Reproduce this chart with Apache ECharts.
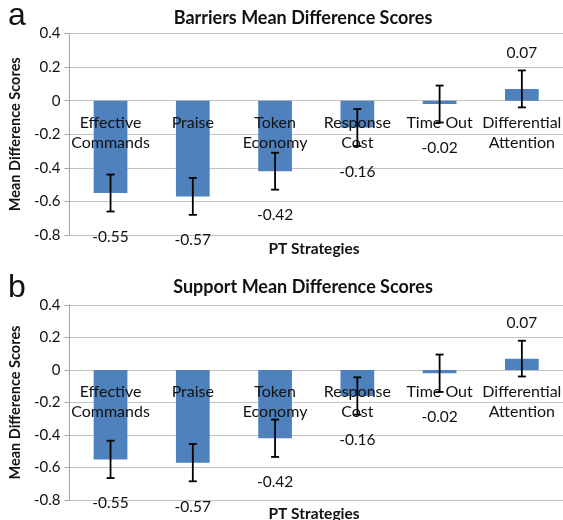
<!DOCTYPE html>
<html>
<head>
<meta charset="utf-8">
<script src="https://cdn.jsdelivr.net/npm/echarts@6/dist/echarts.min.js"></script>
<style>
  html, body { margin: 0; padding: 0; background: #fff; }
  #chart { width: 563px; height: 520px; }
</style>
</head>
<body>
<div id="chart"></div>
<script>
// ---- data ----
const categories = ['Effective\nCommands', 'Praise', 'Token\nEconomy', 'Response\nCost', 'Time Out', 'Differential\nAttention'];
const barriersValues = [-0.55, -0.57, -0.42, -0.16, -0.02, 0.07];
const barriersErrors = [0.11, 0.11, 0.11, 0.11, 0.11, 0.11];
const supportValues = [-0.55, -0.57, -0.42, -0.16, -0.02, 0.07];
const supportErrors = [0.115, 0.115, 0.115, 0.115, 0.115, 0.11];
const yTicks = { min: -0.8, max: 0.4, interval: 0.2 };
const panelTitles = ['Barriers Mean Difference Scores', 'Support Mean Difference Scores'];
const panelLetters = ['a', 'b'];
const xAxisTitle = 'PT Strategies';
const yAxisTitle = 'Mean Difference Scores';

// ---- styles ----
const FONT = 'Lato';
const BAR_COLOR = '#4f81bd';
const GRID_COLOR = '#c4c4c4';
const AXIS_COLOR = '#a6a6a6';
const TEXT_COLOR = '#111';
const grids = [
  { left: 67, right: -2, top: 33.5, height: 201.5 },
  { left: 67, right: -2, top: 305, height: 195 }
];

function errorSeries(idx, values, errors) {
  return {
    type: 'custom',
    xAxisIndex: idx, yAxisIndex: idx,
    z: 5,
    data: values.map((v, i) => [i, v, errors[i]]),
    renderItem: function (params, api) {
      const i = api.value(0), v = api.value(1), e = api.value(2);
      const top = api.coord([i, v + e]);
      const bot = api.coord([i, v - e]);
      const cap = 4;
      const style = { stroke: '#000', lineWidth: 1.8 };
      return {
        type: 'group',
        children: [
          { type: 'line', shape: { x1: top[0], y1: top[1], x2: bot[0], y2: bot[1] }, style },
          { type: 'line', shape: { x1: top[0] - cap, y1: top[1], x2: top[0] + cap, y2: top[1] }, style },
          { type: 'line', shape: { x1: bot[0] - cap, y1: bot[1], x2: bot[0] + cap, y2: bot[1] }, style }
        ]
      };
    }
  };
}

// category labels hang just below the zero line (axis crossing at 0)
function categoryLabelSeries(idx) {
  return {
    type: 'custom',
    xAxisIndex: idx, yAxisIndex: idx,
    z: 4,
    silent: true,
    clip: false,
    data: categories.map((c, i) => [i, 0]),
    renderItem: function (params, api) {
      const i = api.value(0);
      const p = api.coord([i, 0]);
      return {
        type: 'text',
        style: {
          text: categories[i],
          x: p[0], y: p[1] + 12,
          align: 'center', verticalAlign: 'top',
          lineHeight: 20,
          fontFamily: FONT, fontSize: 16, fill: TEXT_COLOR
        }
      };
    }
  };
}

function barSeries(idx, values) {
  return {
    type: 'bar',
    xAxisIndex: idx, yAxisIndex: idx,
    barWidth: '41%',
    z: 2,
    itemStyle: { color: BAR_COLOR },
    label: {
      show: true,
      position: 'outside',
      distance: 36,
      fontFamily: FONT, fontSize: 15.5, color: TEXT_COLOR,
      formatter: p => p.value.toFixed(2)
    },
    data: values.map(v => v > 0 ? { value: v, label: { distance: 28 } } : { value: v })
  };
}

const xAxes = grids.map((g, idx) => ({
  type: 'category',
  gridIndex: idx,
  data: categories,
  axisLine: { show: false },
  axisTick: { show: false },
  axisLabel: { show: false }
}));

const yAxes = grids.map((g, idx) => ({
  type: 'value',
  gridIndex: idx,
  min: yTicks.min, max: yTicks.max, interval: yTicks.interval,
  name: yAxisTitle,
  nameLocation: 'middle',
  nameGap: 45,
  nameTextStyle: { fontFamily: FONT, fontSize: 14.5, fontWeight: 'bold', color: TEXT_COLOR },
  axisLine: { show: true, lineStyle: { color: AXIS_COLOR } },
  axisTick: { show: true, length: 5, lineStyle: { color: AXIS_COLOR } },
  splitLine: { show: true, lineStyle: { color: GRID_COLOR, width: 1.2 } },
  axisLabel: {
    margin: 9, fontFamily: FONT, fontSize: 15, color: TEXT_COLOR,
    formatter: v => (Math.abs(v) < 1e-9 ? '0' : String(Math.round(v * 10) / 10))
  }
}));

const titles = [];
grids.forEach((g, idx) => {
  titles.push({
    text: panelLetters[idx], left: 8, top: idx === 0 ? 0 : 272, padding: 0,
    textStyle: { fontFamily: 'Liberation Sans', fontSize: 32, fontWeight: 'normal', color: TEXT_COLOR }
  });
  titles.push({
    text: panelTitles[idx], left: 303, textAlign: 'center', top: idx === 0 ? 9 : 278, padding: 0,
    textStyle: { fontFamily: FONT, fontSize: 18, fontWeight: 'bold', color: TEXT_COLOR }
  });
  titles.push({
    text: xAxisTitle, left: 314, textAlign: 'center', top: idx === 0 ? 241 : 506, padding: 0,
    textStyle: { fontFamily: FONT, fontSize: 15.5, fontWeight: 'bold', color: TEXT_COLOR }
  });
});

const option = {
  animation: false,
  backgroundColor: '#fff',
  title: titles,
  grid: grids,
  xAxis: xAxes,
  yAxis: yAxes,
  series: [
    barSeries(0, barriersValues),
    categoryLabelSeries(0),
    errorSeries(0, barriersValues, barriersErrors),
    barSeries(1, supportValues),
    categoryLabelSeries(1),
    errorSeries(1, supportValues, supportErrors)
  ]
};

const chart = echarts.init(document.getElementById('chart'), null, { renderer: 'canvas' });
chart.setOption(option);
</script>
</body>
</html>
